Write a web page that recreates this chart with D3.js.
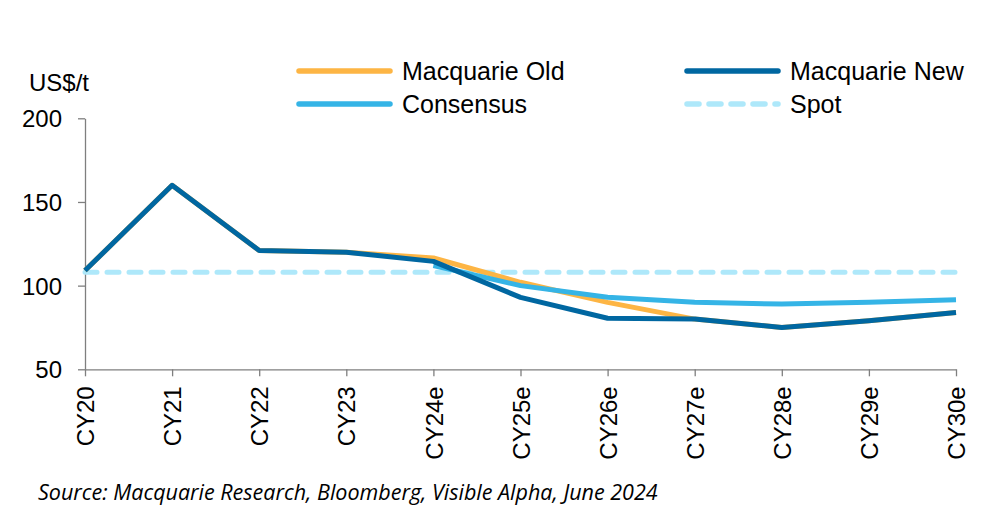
<!DOCTYPE html>
<html>
<head>
<meta charset="utf-8">
<script src="https://cdn.jsdelivr.net/npm/d3@7"></script>
<style>
  body { margin: 0; background: #fff; }
  #chart { width: 985px; height: 515px; }
</style>
</head>
<body>
<div id="chart"></div>
<script>
const categories = ['CY20', 'CY21', 'CY22', 'CY23', 'CY24e', 'CY25e', 'CY26e', 'CY27e', 'CY28e', 'CY29e', 'CY30e'];
const macquarieOld = [109, 160, 121, 120, 116.5, 102, 90, 80, 75, 79, 84];
const macquarieNew = [109, 160, 121, 120, 114.5, 93, 80.5, 80, 75, 79, 84];
const consensus = [null, null, null, null, 112, 100, 93, 90, 89, 90, 91.5];
const spot = [108, 108, 108, 108, 108, 108, 108, 108, 108, 108, 108];
const yTicks = [50, 100, 150, 200];

const width = 985, height = 515;
const margin = { top: 118.3, right: 29, bottom: 145.7, left: 85 };

const svg = d3.select('#chart').append('svg')
  .attr('width', width)
  .attr('height', height)
  .attr('viewBox', `0 0 ${width} ${height}`);

const x = d3.scalePoint()
  .domain(categories)
  .range([margin.left, width - margin.right]);

const y = d3.scaleLinear()
  .domain([50, 200])
  .range([height - margin.bottom, margin.top]);

const font = "'Liberation Sans', Arial, sans-serif";

// y 轴
const yAxis = svg.append('g')
  .attr('transform', `translate(${margin.left},0)`)
  .call(d3.axisLeft(y).tickValues(yTicks).tickSize(7).tickPadding(16).tickSizeOuter(0));
yAxis.select('.domain').attr('stroke', '#7f7f7f').attr('stroke-width', 1.3);
yAxis.selectAll('.tick line').attr('stroke', '#7f7f7f').attr('stroke-width', 1.3);
yAxis.selectAll('.tick text')
  .attr('font-family', font)
  .attr('font-size', '24px')
  .attr('fill', '#000')
  .attr('dy', '0.36em');

// x 轴
const xAxis = svg.append('g')
  .attr('transform', `translate(0,${y(50)})`)
  .call(d3.axisBottom(x).tickSize(7).tickSizeOuter(0));
xAxis.select('.domain').attr('stroke', '#7f7f7f').attr('stroke-width', 1.3);
xAxis.selectAll('.tick line').attr('stroke', '#7f7f7f').attr('stroke-width', 1.3);
xAxis.selectAll('.tick text')
  .attr('font-family', font)
  .attr('font-size', '24px')
  .attr('fill', '#000')
  .attr('transform', 'rotate(-90)')
  .attr('text-anchor', 'end')
  .attr('x', -17)
  .attr('y', 0)
  .attr('dy', '0.36em');

svg.append('text')
  .attr('x', 29)
  .attr('y', 91)
  .attr('font-family', font)
  .attr('font-size', '24px')
  .text('US$/t');

const line = d3.line()
  .defined(d => d != null)
  .x((d, i) => x(categories[i]))
  .y(d => y(d));

const series = [
  { name: 'Spot', values: spot, color: '#aee8fa', dash: '12 10' },
  { name: 'Macquarie Old', values: macquarieOld, color: '#fdb544' },
  { name: 'Consensus', values: consensus, color: '#35b4e6' },
  { name: 'Macquarie New', values: macquarieNew, color: '#0067a1' }
];

svg.append('g')
  .selectAll('path')
  .data(series)
  .join('path')
  .attr('fill', 'none')
  .attr('stroke', d => d.color)
  .attr('stroke-width', 5)
  .attr('stroke-linejoin', 'round')
  .attr('stroke-linecap', d => d.dash ? 'round' : 'butt')
  .attr('stroke-dasharray', d => d.dash || null)
  .attr('d', d => line(d.values));

// 图例
const legendItems = [
  { name: 'Macquarie Old', color: '#fdb544', lx: 299, ly: 71 },
  { name: 'Macquarie New', color: '#0067a1', lx: 687, ly: 71 },
  { name: 'Consensus', color: '#35b4e6', lx: 299, ly: 104 },
  { name: 'Spot', color: '#aee8fa', lx: 687, ly: 104, dash: '12 10' }
];

const legend = svg.append('g')
  .selectAll('g')
  .data(legendItems)
  .join('g')
  .attr('transform', d => `translate(${d.lx},${d.ly})`);

legend.append('line')
  .attr('x1', 0)
  .attr('x2', 91)
  .attr('stroke', d => d.color)
  .attr('stroke-width', 5.5)
  .attr('stroke-linecap', 'round')
  .attr('stroke-dasharray', d => d.dash || null);

legend.append('text')
  .attr('x', 103)
  .attr('dy', '0.36em')
  .attr('font-family', font)
  .attr('font-size', '25px')
  .text(d => d.name);

svg.append('text')
  .attr('x', 38)
  .attr('y', 500)
  .attr('font-family', "'Open Sans', Lato, sans-serif")
  .attr('font-style', 'italic')
  .attr('font-size', '21.5px')
  .text('Source: Macquarie Research, Bloomberg, Visible Alpha, June 2024');
</script>
</body>
</html>
